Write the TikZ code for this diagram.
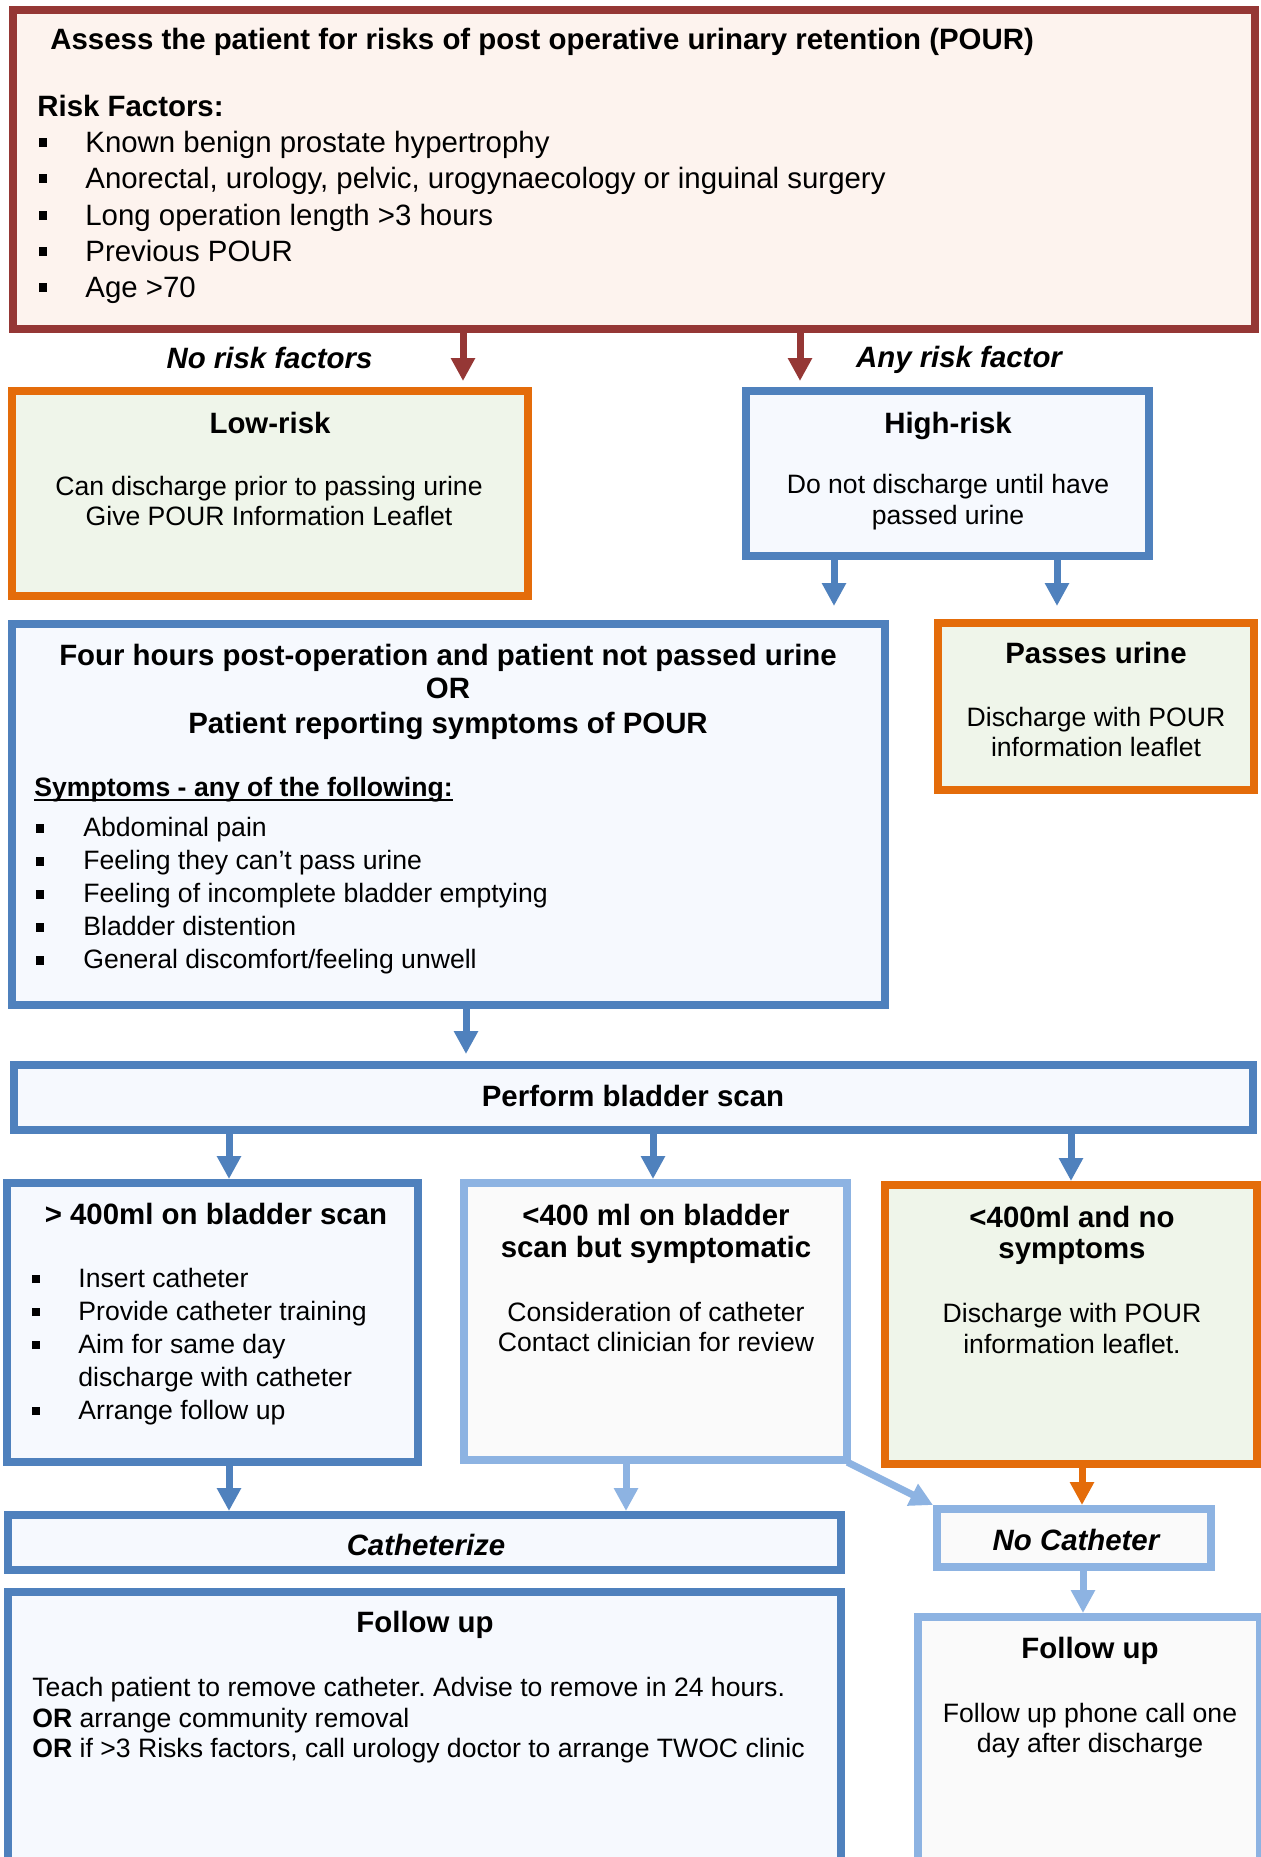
\documentclass[tikz,border=0pt]{standalone}
\usepackage{fontspec}
\setmainfont{Liberation Sans}
\usetikzlibrary{arrows.meta}
\definecolor{dred}{HTML}{953735}
\definecolor{topfill}{HTML}{FDF3EE}
\definecolor{orng}{HTML}{E46C0A}
\definecolor{grfill}{HTML}{EFF5EA}
\definecolor{blu}{HTML}{4F81BD}
\definecolor{blfill}{HTML}{F6F9FE}
\definecolor{lblu}{HTML}{8DB3E2}
\definecolor{lfill}{HTML}{FAFAFA}
\frenchspacing
\newcommand\mkbox[6]{\node[#2, minimum width={(#5-#3)*0.5pt}, minimum height={(#6-#4)*0.5pt}] (#1) at ({(#3+#5)/2},{(#4+#6)/2}) {};}
\newcommand\bulT{\makebox[23pt][l]{\rule[2.5pt]{4pt}{4.5pt}}}
\newcommand\bulS{\makebox[23.5pt][l]{\rule[1.75pt]{3.8pt}{4.2pt}}}
\newcommand\bulG{\makebox[23pt][l]{\rule[2pt]{3.8pt}{4.2pt}}}
\begin{document}
\begin{tikzpicture}[x=0.5pt,y=-0.5pt,
  boxbase/.style={rectangle, inner sep=0pt, line width=4pt},
  boxred/.style={boxbase, draw=dred, fill=topfill},
  boxor/.style={boxbase, draw=orng, fill=grfill},
  boxblue/.style={boxbase, draw=blu, fill=blfill},
  boxlight/.style={boxbase, draw=lblu, fill=lfill},
  ttl/.style={inner sep=0pt, anchor=base, font=\fontsize{14.7pt}{17pt}\selectfont\bfseries},
  ttlL/.style={ttl, anchor=base west},
  lab/.style={inner sep=0pt, anchor=base, font=\fontsize{14.7pt}{17pt}\selectfont\bfseries\itshape},
  bodyT/.style={inner sep=0pt, anchor=base west, font=\fontsize{14.7pt}{17pt}\selectfont},
  body/.style={inner sep=0pt, anchor=base, font=\fontsize{13.3pt}{16pt}\selectfont},
  bodyL/.style={body, anchor=base west},
  sub/.style={inner sep=0pt, anchor=base west, font=\fontsize{13.3pt}{16pt}\selectfont\bfseries},
  arr/.style={line width=3.5pt, -{Triangle[width=11.5pt,length=11.5pt]}}
]
\useasboundingbox (0,0) rectangle (1261,1857);
\fill[white] (0,0) rectangle (1261,1857);
\clip (0,0) rectangle (1261,1857);

% boxes
\mkbox{top}{boxred}{13}{10}{1255}{329}
\mkbox{low}{boxor}{12}{391}{528}{596}
\mkbox{high}{boxblue}{746}{391}{1149}{556}
\mkbox{four}{boxblue}{12}{624}{885}{1005}
\mkbox{pass}{boxor}{938}{623}{1254}{790}
\mkbox{scan}{boxblue}{14}{1065}{1253}{1130}
\mkbox{gt}{boxblue}{7}{1183}{418}{1462}
\mkbox{lts}{boxlight}{464}{1183}{847}{1460}
\mkbox{ltn}{boxor}{885}{1185}{1257}{1464}
\mkbox{cath}{boxblue}{8}{1515}{841}{1570}
\mkbox{nocath}{boxlight}{937}{1509}{1211}{1567}
\mkbox{fuA}{boxblue}{8}{1592}{841}{1861}
\mkbox{fuB}{boxlight}{918}{1617}{1260}{1861}

% top box text
\node[ttlL] (t0) at (50,50) {Assess the patient for risks of post operative urinary retention (POUR)};
\node[ttlL] (t1) at (37,117) {Risk Factors:};
\node[bodyT] (t2) at (39,152) {\bulT Known benign prostate hypertrophy};
\node[bodyT] (t3) at (39,188) {\bulT Anorectal, urology, pelvic, urogynaecology or inguinal surgery};
\node[bodyT] (t4) at (39,225) {\bulT Long operation length >3 hours};
\node[bodyT] (t5) at (39,261) {\bulT Previous POUR};
\node[bodyT] (t6) at (39,297) {\bulT Age >70};

% labels
\node[lab] (lnr) at (269.5,368) {No risk factors};
\node[lab] (lar) at (959,367) {Any risk factor};

% low / high
\node[ttl] (lo1) at (270,433) {Low-risk};
\node[body] (lo2) at (269,495) {Can discharge prior to passing urine};
\node[body] (lo3) at (269,525) {Give POUR Information Leaflet};
\node[ttl] (hi1) at (948,433) {High-risk};
\node[body] (hi2) at (948,493) {Do not discharge until have};
\node[body] (hi3) at (948,524) {passed urine};

% four hours
\node[ttl] (f1) at (448,665) {Four hours post-operation and patient not passed urine};
\node[ttl] (f2) at (448,698) {OR};
\node[ttl] (f3) at (448,733) {Patient reporting symptoms of POUR};
\node[sub] (fs) at (34,796) {Symptoms - any of the following:};
\draw[line width=1pt] ([yshift=-2pt]fs.base west) -- ([yshift=-2pt]fs.base east);
\node[bodyL] (f4) at (36,836) {\bulS Abdominal pain};
\node[bodyL] (f5) at (36,869) {\bulS Feeling they can’t pass urine};
\node[bodyL] (f6) at (36,902) {\bulS Feeling of incomplete bladder emptying};
\node[bodyL] (f7) at (36,935) {\bulS Bladder distention};
\node[bodyL] (f8) at (36,968) {\bulS General discomfort/feeling unwell};

% passes urine
\node[ttl] (p1) at (1096,663) {Passes urine};
\node[body] (p2) at (1096,726) {Discharge with POUR};
\node[body] (p3) at (1096,756) {information leaflet};

% scan
\node[ttl] (s1) at (633,1106) {Perform bladder scan};

% >400
\node[ttl] (g1) at (216,1224) {> 400ml on bladder scan};
\node[bodyL] (g2) at (32,1287) {\bulG Insert catheter};
\node[bodyL] (g3) at (32,1320) {\bulG Provide catheter training};
\node[bodyL] (g4) at (32,1353) {\bulG Aim for same day};
\node[bodyL] (g5) at (78,1386) {discharge with catheter};
\node[bodyL] (g6) at (32,1419) {\bulG Arrange follow up};

% <400 symptomatic
\node[ttl] (m1) at (656,1225) {<400 ml on bladder};
\node[ttl] (m2) at (656,1257) {scan but symptomatic};
\node[body] (m3) at (656,1321) {Consideration of catheter};
\node[body] (m4) at (656,1351) {Contact clinician for review};

% <400 no symptoms
\node[ttl] (n1) at (1072,1227) {<400ml and no};
\node[ttl] (n2) at (1072,1258) {symptoms};
\node[body] (n3) at (1072,1322) {Discharge with POUR};
\node[body] (n4) at (1072,1353) {information leaflet.};

% catheterize / no catheter
\node[lab] (c1) at (426,1555) {Catheterize};
\node[lab] (nc1) at (1076,1550) {No Catheter};

% follow ups
\node[ttl] (u1) at (425,1632) {Follow up};
\node[bodyL] (u2) at (32,1696) {Teach patient to remove catheter. Advise to remove in 24 hours.};
\node[bodyL] (u3) at (32,1727) {\textbf{OR} arrange community removal};
\node[bodyL] (u4) at (32,1757) {\textbf{OR} if >3 Risks factors, call urology doctor to arrange TWOC clinic};
\node[ttl] (v1) at (1090,1658) {Follow up};
\node[body] (v2) at (1090,1722) {Follow up phone call one};
\node[body] (v3) at (1090,1752) {day after discharge};

% arrow x positions
\coordinate (ca1) at (463,0);
\coordinate (ca2) at (800,0);
\coordinate (ca3) at (834,0);
\coordinate (ca4) at (1057,0);
\coordinate (ca5) at (466,0);
\coordinate (ca6) at (229,0);
\coordinate (ca7) at (653,0);
\coordinate (ca8) at (1071,0);
\coordinate (ca10) at (626,0);
\coordinate (ca12) at (1082,0);
\coordinate (ca13) at (1083,0);

\draw[arr, dred, shorten >=3pt] (top.south -| ca1) -- (low.north -| ca1);
\draw[arr, dred, shorten >=3pt] (top.south -| ca2) -- (high.north -| ca2);
\draw[arr, blu, shorten >=7pt] (high.south -| ca3) -- (four.north -| ca3);
\draw[arr, blu, shorten >=6.5pt] (high.south -| ca4) -- (pass.north -| ca4);
\draw[arr, blu, shorten >=3.5pt] (four.south -| ca5) -- (scan.north -| ca5);
\draw[arr, blu] (scan.south -| ca6) -- (gt.north -| ca6);
\draw[arr, blu] (scan.south -| ca7) -- (lts.north -| ca7);
\draw[arr, blu] (scan.south -| ca8) -- (ltn.north -| ca8);
\draw[arr, blu] (gt.south -| ca6) -- (cath.north -| ca6);
\draw[arr, lblu] (lts.south -| ca10) -- (cath.north -| ca10);
\draw[arr, lblu, shorten <=-2pt] (lts.south east) -- (nocath.north west);
\draw[arr, orng] (ltn.south -| ca12) -- (nocath.north -| ca12);
\draw[arr, lblu] (nocath.south -| ca13) -- (fuB.north -| ca13);
\end{tikzpicture}
\end{document}
